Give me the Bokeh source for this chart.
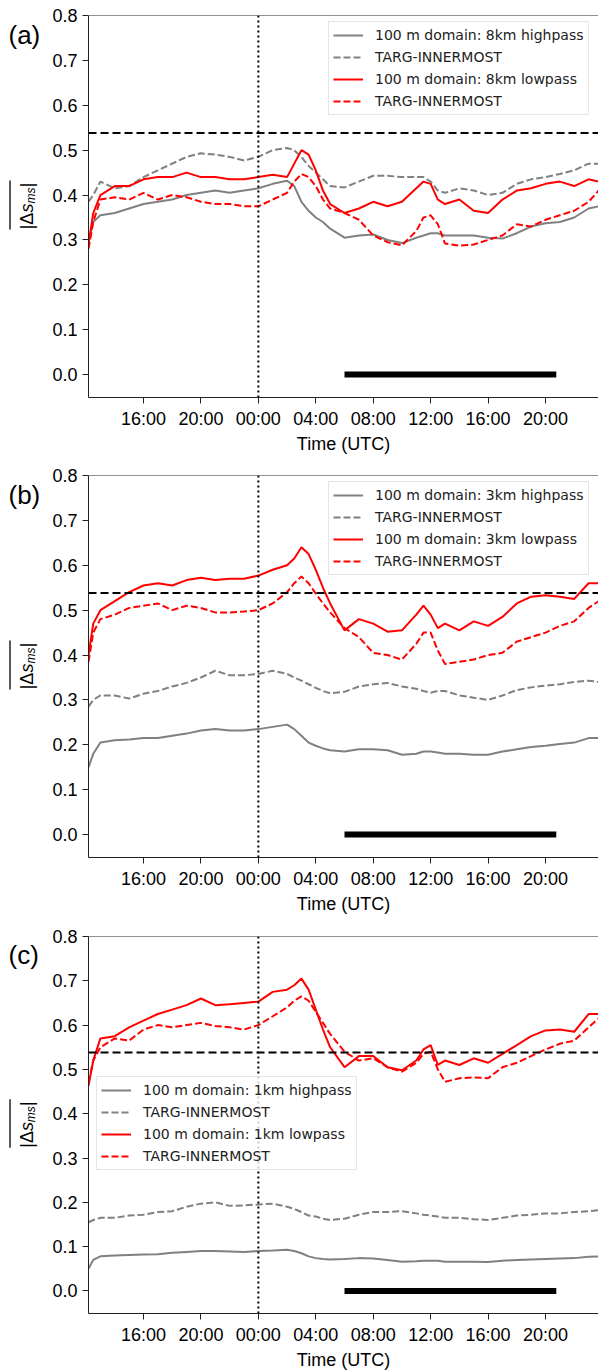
import math
from bokeh.plotting import figure
from bokeh.layouts import column, row
from bokeh.models import Span, Legend, LegendItem, FixedTicker, PrintfTickFormatter, Range1d
from bokeh.core.properties import value
from bokeh.embed import file_html
from bokeh.resources import INLINE

# hours relative to 00:00 UTC of the second day
time_h = [-11.83, -11.5, -11, -10, -9, -8, -7, -6, -5, -4, -3, -2, -1, 0, 1, 2, 2.5, 3, 3.5, 4, 4.5,
          5, 6, 7, 8, 9, 10, 11, 11.5, 12, 12.5, 13, 14, 15, 16, 17, 18, 19, 20, 21, 22, 23, 23.7]

tick_hours = [-8, -4, 0, 4, 8, 12, 16, 20]
tick_labels = ["16:00", "20:00", "00:00", "04:00", "08:00", "12:00", "16:00", "20:00"]
y_ticks = [0.0, 0.1, 0.2, 0.3, 0.4, 0.5, 0.6, 0.7, 0.8]
threshold = [0.538]
bar_hours = [6.0, 20.75]
bar_level = [0.0, 0.0]

# panel (a): 8 km filter
a_hp = [0.295, 0.34, 0.355, 0.36, 0.37, 0.38, 0.385, 0.39, 0.40, 0.405, 0.41, 0.405, 0.41, 0.415, 0.425, 0.432, 0.42,
        0.385, 0.365, 0.35, 0.34, 0.325, 0.305, 0.31, 0.312, 0.30, 0.293, 0.305, 0.31, 0.315, 0.315, 0.31, 0.31,
        0.31, 0.305, 0.303, 0.315, 0.33, 0.337, 0.34, 0.35, 0.37, 0.375]
a_hp_targ = [0.385, 0.40, 0.43, 0.415, 0.42, 0.44, 0.455, 0.47, 0.485, 0.493, 0.49, 0.485, 0.477, 0.485, 0.50, 0.505,
             0.50, 0.485, 0.465, 0.45, 0.435, 0.42, 0.417, 0.43, 0.443, 0.443, 0.44, 0.44, 0.44, 0.43, 0.41, 0.405,
             0.415, 0.41, 0.40, 0.405, 0.425, 0.435, 0.44, 0.447, 0.455, 0.47, 0.47]
a_lp = [0.29, 0.36, 0.40, 0.42, 0.42, 0.435, 0.44, 0.44, 0.45, 0.44, 0.44, 0.435, 0.435, 0.44, 0.445, 0.44, 0.47,
        0.50, 0.49, 0.455, 0.41, 0.38, 0.36, 0.37, 0.385, 0.375, 0.385, 0.415, 0.43, 0.425, 0.39, 0.38, 0.39,
        0.365, 0.36, 0.39, 0.41, 0.415, 0.425, 0.43, 0.42, 0.435, 0.43]
a_lp_targ = [0.28, 0.34, 0.39, 0.395, 0.39, 0.405, 0.39, 0.40, 0.395, 0.385, 0.38, 0.38, 0.375, 0.375, 0.39, 0.405,
             0.43, 0.447, 0.44, 0.42, 0.39, 0.37, 0.36, 0.345, 0.31, 0.295, 0.288, 0.32, 0.35, 0.355, 0.335, 0.292,
             0.287, 0.29, 0.30, 0.31, 0.335, 0.33, 0.345, 0.355, 0.365, 0.385, 0.41]

# panel (b): 3 km filter
b_hp = [0.15, 0.18, 0.205, 0.21, 0.212, 0.215, 0.215, 0.22, 0.225, 0.232, 0.235, 0.232, 0.232, 0.235, 0.24, 0.245,
        0.235, 0.22, 0.205, 0.198, 0.192, 0.188, 0.185, 0.19, 0.19, 0.188, 0.178, 0.18, 0.185, 0.185, 0.183, 0.18,
        0.18, 0.178, 0.178, 0.185, 0.19, 0.195, 0.198, 0.202, 0.205, 0.215, 0.215]
b_hp_targ = [0.285, 0.30, 0.31, 0.31, 0.303, 0.314, 0.32, 0.33, 0.338, 0.35, 0.365, 0.355, 0.355, 0.358, 0.365,
             0.358, 0.35, 0.343, 0.335, 0.327, 0.32, 0.315, 0.318, 0.33, 0.335, 0.338, 0.33, 0.325, 0.32, 0.316,
             0.32, 0.32, 0.31, 0.305, 0.30, 0.31, 0.322, 0.328, 0.332, 0.335, 0.34, 0.343, 0.34]
b_lp = [0.40, 0.47, 0.50, 0.52, 0.54, 0.555, 0.56, 0.555, 0.567, 0.572, 0.567, 0.57, 0.57, 0.577, 0.59, 0.60, 0.615,
        0.64, 0.625, 0.59, 0.55, 0.515, 0.455, 0.48, 0.47, 0.452, 0.455, 0.49, 0.51, 0.49, 0.46, 0.47, 0.455,
        0.475, 0.465, 0.485, 0.515, 0.53, 0.533, 0.53, 0.525, 0.56, 0.56]
b_lp_targ = [0.385, 0.45, 0.48, 0.49, 0.505, 0.51, 0.515, 0.50, 0.51, 0.505, 0.495, 0.495, 0.497, 0.50, 0.515, 0.54,
             0.56, 0.575, 0.56, 0.537, 0.515, 0.495, 0.46, 0.44, 0.405, 0.40, 0.39, 0.425, 0.45, 0.45, 0.41, 0.38,
             0.385, 0.39, 0.40, 0.405, 0.43, 0.44, 0.45, 0.465, 0.475, 0.505, 0.52]

# panel (c): 1 km filter
c_hp = [0.05, 0.07, 0.078, 0.08, 0.081, 0.082, 0.083, 0.086, 0.088, 0.09, 0.09, 0.089, 0.088, 0.09, 0.091, 0.093,
        0.09, 0.085, 0.078, 0.074, 0.072, 0.071, 0.072, 0.074, 0.073, 0.07, 0.066, 0.067, 0.068, 0.068, 0.068,
        0.066, 0.066, 0.066, 0.065, 0.068, 0.07, 0.071, 0.072, 0.073, 0.074, 0.077, 0.078]
c_hp_targ = [0.155, 0.16, 0.165, 0.165, 0.17, 0.172, 0.178, 0.18, 0.19, 0.197, 0.20, 0.192, 0.193, 0.195, 0.197,
             0.19, 0.185, 0.178, 0.17, 0.168, 0.163, 0.16, 0.163, 0.172, 0.178, 0.178, 0.18, 0.175, 0.172, 0.17,
             0.168, 0.165, 0.165, 0.162, 0.16, 0.165, 0.17, 0.172, 0.175, 0.175, 0.178, 0.18, 0.182]
c_lp = [0.463, 0.52, 0.57, 0.575, 0.595, 0.61, 0.625, 0.635, 0.645, 0.66, 0.645, 0.647, 0.65, 0.653, 0.675, 0.68,
        0.69, 0.705, 0.68, 0.635, 0.59, 0.55, 0.505, 0.53, 0.53, 0.505, 0.498, 0.52, 0.545, 0.555, 0.51, 0.52,
        0.51, 0.525, 0.515, 0.535, 0.555, 0.575, 0.588, 0.59, 0.585, 0.625, 0.625]
c_lp_targ = [0.47, 0.52, 0.55, 0.57, 0.565, 0.59, 0.60, 0.595, 0.60, 0.605, 0.598, 0.595, 0.59, 0.60, 0.62, 0.64,
             0.655, 0.665, 0.655, 0.63, 0.605, 0.58, 0.54, 0.52, 0.525, 0.505, 0.495, 0.515, 0.535, 0.54, 0.50,
             0.472, 0.48, 0.482, 0.48, 0.505, 0.515, 0.53, 0.545, 0.558, 0.565, 0.595, 0.615]

panel_tags = ["(a)", "(b)", "(c)"]
filter_scales = ["8km", "3km", "1km"]

TICK_FONT = "Liberation Sans"
LEG_FONT = "DejaVu Sans"
GRAY = "#808080"
RED = "#ff0000"
SIDE_W = 48          # strip holding panel tag and y title
AXIS_W = 40          # width bokeh gives the y axis (ticks + labels)
FRAME_TOP = 15
FRAME_H = 382


def make_side(tag, height):
    """Narrow strip left of the y tick labels: panel tag and rotated y-axis title.
    Its frame is aligned with the panel's frame (canvas y 15..397), so screen y -> data y = 397 - y."""
    bottom_c = FRAME_TOP + FRAME_H
    s = figure(width=SIDE_W, height=height, output_backend="svg", toolbar_location=None,
               x_range=Range1d(0, SIDE_W), y_range=Range1d(0, FRAME_H),
               x_axis_location=None, y_axis_location=None,
               min_border_left=0, min_border_right=0, min_border_top=FRAME_TOP,
               min_border_bottom=height - bottom_c)
    s.outline_line_color = None
    s.grid.visible = False
    s.background_fill_color = "white"
    s.border_fill_color = "white"

    def cy(y):
        return bottom_c - y

    s.text(x=[8], y=[cy(34)], text=[tag], text_font=value(TICK_FONT), text_font_size="26px",
           text_color="black", text_align="left", text_baseline="alphabetic")
    up = math.pi / 2
    common = dict(angle=up, text_font=value(TICK_FONT), text_color="black",
                  text_align="center", text_baseline="middle")
    s.text(x=[26], y=[cy(220.5)], text=["|\u0394"], text_font_size="18px", **common)
    s.text(x=[26], y=[cy(207.5)], text=["s"], text_font_size="18px", text_font_style="italic", **common)
    s.text(x=[30.5], y=[cy(195)], text=["ms"], text_font_size="12px", text_font_style="italic", **common)
    s.text(x=[26], y=[cy(184.5)], text=["|"], text_font_size="18px", **common)
    s.segment(x0=[9.5], y0=[cy(229)], x1=[9.5], y1=[cy(180)], line_color="black", line_width=1.3)
    return s


def make_panel(scale, hp, hp_t, lp, lp_t, height, bottom, leg_loc):
    p = figure(width=598 - SIDE_W, height=height, output_backend="svg", toolbar_location=None,
               x_range=Range1d(-11.83, 23.69), y_range=Range1d(-0.051, 0.8),
               min_border_left=AXIS_W, min_border_right=0, min_border_top=FRAME_TOP,
               min_border_bottom=bottom)
    p.outline_line_color = None
    p.grid.visible = False
    p.background_fill_color = "white"
    p.border_fill_color = "white"

    for ax in (p.xaxis[0], p.yaxis[0]):
        ax.axis_line_color = "#222222"
        ax.axis_line_width = 1
        ax.major_tick_line_color = "#222222"
        ax.major_tick_in = 0
        ax.major_tick_out = 6
        ax.minor_tick_line_color = None
        ax.major_label_text_font = TICK_FONT
        ax.major_label_text_font_size = "18px"
        ax.major_label_text_color = "black"
        ax.major_label_standoff = 5
        ax.axis_label_text_font = TICK_FONT
        ax.axis_label_text_font_size = "18px"
        ax.axis_label_text_font_style = "normal"
        ax.axis_label_text_color = "black"

    xa = p.xaxis[0]
    xa.ticker = FixedTicker(ticks=tick_hours)
    xa.major_label_overrides = {h: lab for h, lab in zip(tick_hours, tick_labels)}
    xa.axis_label = "Time (UTC)"
    xa.axis_label_standoff = 2

    ya = p.yaxis[0]
    ya.ticker = FixedTicker(ticks=y_ticks)
    ya.formatter = PrintfTickFormatter(format="%.1f")

    # top spine
    p.add_layout(Span(location=0.8, dimension="width", line_color="#222222", line_width=1))
    # reference lines
    p.add_layout(Span(location=threshold[0], dimension="width", line_color="black",
                      line_width=2, line_dash="8 4"))
    p.add_layout(Span(location=0, dimension="height", line_color="black",
                      line_width=2, line_dash="2 3"))
    # black bar
    p.line(bar_hours, bar_level, line_color="black", line_width=6, line_cap="butt")

    r1 = p.line(time_h, hp, line_color=GRAY, line_width=2)
    r2 = p.line(time_h, hp_t, line_color=GRAY, line_width=2, line_dash="7 3")
    r3 = p.line(time_h, lp, line_color=RED, line_width=2)
    r4 = p.line(time_h, lp_t, line_color=RED, line_width=2, line_dash="7 3")

    legend = Legend(items=[
        LegendItem(label=value("100 m domain: %s highpass" % scale), renderers=[r1]),
        LegendItem(label=value("TARG-INNERMOST"), renderers=[r2]),
        LegendItem(label=value("100 m domain: %s lowpass" % scale), renderers=[r3]),
        LegendItem(label=value("TARG-INNERMOST"), renderers=[r4]),
    ], location=leg_loc)
    legend.label_text_font = LEG_FONT
    legend.label_text_font_size = "14px"
    legend.label_text_color = "#222222"
    legend.glyph_width = 30
    legend.glyph_height = 18
    legend.label_height = 18
    legend.label_standoff = 12
    legend.spacing = 4
    legend.padding = 4
    legend.margin = 0
    legend.border_line_color = "#cccccc"
    legend.border_line_width = 1
    legend.background_fill_color = "white"
    legend.background_fill_alpha = 0.8
    p.add_layout(legend)
    return p


heights = [460, 461, 451]
bottoms = [63, 64, 54]
legend_locs = [(240, 282), (240, 282), (8, 143)]
series = [(a_hp, a_hp_targ, a_lp, a_lp_targ), (b_hp, b_hp_targ, b_lp, b_lp_targ),
          (c_hp, c_hp_targ, c_lp, c_lp_targ)]

rows = []
for i in range(3):
    side = make_side(panel_tags[i], heights[i])
    panel = make_panel(filter_scales[i], *series[i], heights[i], bottoms[i], legend_locs[i])
    rows.append(row(side, panel, spacing=0))

layout = column(*rows, spacing=0)
open("out.html", "w").write(file_html(layout, INLINE))
